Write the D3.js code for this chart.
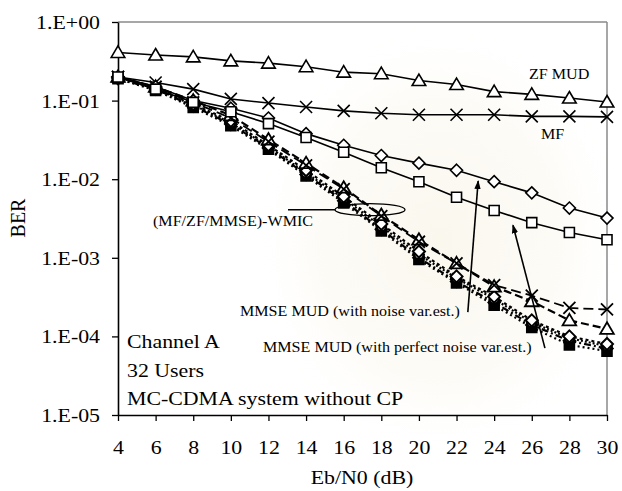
<!DOCTYPE html>
<html>
<head>
<meta charset="utf-8">
<script src="https://cdn.jsdelivr.net/npm/d3@7"></script>
<style>
  html, body { margin: 0; padding: 0; background: #fff; }
  svg { display: block; font-family: "Liberation Serif", "Times New Roman", serif; }
</style>
</head>
<body>
<svg id="chart" width="622" height="491"></svg>
<script>
// Eb/N0 axis (dB)
const ebn0 = [4, 6, 8, 10, 12, 14, 16, 18, 20, 22, 24, 26, 28, 30];

// BER decades and their labels
const berTicks = [1, 1e-1, 1e-2, 1e-3, 1e-4, 1e-5];
const berTickLabels = ["1.E+00", "1.E-01", "1.E-02", "1.E-03", "1.E-04", "1.E-05"];

// Conventional receivers (solid lines)
const zfMud   = [0.41, 0.38, 0.36, 0.32, 0.30, 0.27, 0.23, 0.22, 0.18, 0.16, 0.13, 0.12, 0.108, 0.096];
const mf      = [0.20, 0.17, 0.14, 0.105, 0.093, 0.083, 0.074, 0.069, 0.066, 0.066, 0.066, 0.063, 0.063, 0.062];
const mmseEst = [0.20, 0.15, 0.10, 0.080, 0.060, 0.038, 0.027, 0.020, 0.016, 0.013, 0.0093, 0.0067, 0.0043, 0.0032];
const mmsePerf= [0.20, 0.14, 0.095, 0.072, 0.051, 0.034, 0.022, 0.014, 0.0093, 0.0059, 0.0040, 0.0028, 0.0021, 0.0017];

// WMIC receivers (dashed / dotted lines)
const wmicMfEst   = [0.20, 0.15, 0.095, 0.060, 0.030, 0.015, 0.0075, 0.0034, 0.0016, 0.00085, 0.00045, 0.00033, 0.00023, 0.00022];
const wmicZfEst   = [0.20, 0.15, 0.100, 0.065, 0.032, 0.016, 0.0078, 0.0035, 0.0017, 0.00085, 0.00043, 0.00028, 0.00016, 0.000125];
const wmicMmseEst = [0.20, 0.145, 0.090, 0.055, 0.027, 0.013, 0.0060, 0.0027, 0.0012, 0.00058, 0.00032, 0.00016, 0.00010, 0.000080];
const wmicMfPerf  = [0.20, 0.14, 0.088, 0.052, 0.026, 0.012, 0.0057, 0.0025, 0.0011, 0.00055, 0.00030, 0.00015, 0.000095, 0.000075];
const wmicZfPerf  = [0.19, 0.14, 0.085, 0.050, 0.025, 0.0115, 0.0053, 0.0023, 0.0010, 0.00050, 0.00027, 0.00014, 0.000088, 0.000070];
const wmicMmsePerf= [0.19, 0.135, 0.082, 0.048, 0.024, 0.011, 0.0050, 0.0022, 0.00095, 0.00048, 0.00025, 0.00013, 0.000078, 0.000065];

const SX = 1.15; // horizontal stretch of the typeface

const svg = d3.select("#chart");
const plotL = 118, plotR = 607, plotT = 22, plotB = 415;

const x = d3.scaleLinear().domain([4, 30]).range([plotL, plotR]);
const y = d3.scaleLog().domain([1e-5, 1]).range([plotB, plotT]);

// faint background emblem
const defs = svg.append("defs");
const rg = defs.append("radialGradient").attr("id", "wm");
rg.append("stop").attr("offset", "0%").attr("stop-color", "#f5efdc").attr("stop-opacity", 0.5);
rg.append("stop").attr("offset", "65%").attr("stop-color", "#f8f3e4").attr("stop-opacity", 0.3);
rg.append("stop").attr("offset", "100%").attr("stop-color", "#ffffff").attr("stop-opacity", 0);
svg.append("ellipse").attr("cx", 440).attr("cy", 240).attr("rx", 190).attr("ry", 220).attr("fill", "url(#wm)");

// arrowhead
defs.append("marker").attr("id", "arrow")
  .attr("viewBox", "0 0 10 10").attr("refX", 9).attr("refY", 5)
  .attr("markerWidth", 9).attr("markerHeight", 9).attr("orient", "auto")
  .attr("markerUnits", "userSpaceOnUse")
  .append("path").attr("d", "M0,1.5 L10,5 L0,8.5 Z").attr("fill", "#000");

// frame: gray top and right borders
svg.append("line").attr("x1", plotL).attr("x2", plotR).attr("y1", plotT).attr("y2", plotT)
  .attr("stroke", "#8a8a8a").attr("stroke-width", 1.5);
svg.append("line").attr("x1", plotR).attr("x2", plotR).attr("y1", plotT).attr("y2", plotB)
  .attr("stroke", "#8a8a8a").attr("stroke-width", 1.5);

// axes
const yAxis = d3.axisLeft(y).tickValues(berTicks)
  .tickFormat((d, i) => berTickLabels[i]).tickSizeInner(6).tickSizeOuter(0);
const gy = svg.append("g").attr("transform", `translate(${plotL},0)`).call(yAxis);
gy.select(".domain").attr("stroke", "#000").attr("stroke-width", 1.6);
gy.selectAll(".tick line").attr("stroke", "#000").attr("stroke-width", 1.3);
gy.selectAll(".tick text")
  .attr("x", -18 / SX).attr("dy", "0.34em")
  .attr("transform", `scale(${SX},1)`)
  .style("font-family", "'Liberation Serif','Times New Roman',serif")
  .style("font-size", "19px").attr("fill", "#000");

const xAxis = d3.axisBottom(x).tickValues(ebn0).tickFormat(d3.format("d"))
  .tickSizeInner(6).tickSizeOuter(0);
const gx = svg.append("g").attr("transform", `translate(0,${plotB})`).call(xAxis);
gx.select(".domain").attr("stroke", "#000").attr("stroke-width", 1.6);
gx.selectAll(".tick line").attr("stroke", "#000").attr("stroke-width", 1.3);
gx.selectAll(".tick text")
  .attr("y", 0).attr("dy", 0)
  .attr("transform", `translate(0,39) scale(${SX},1)`)
  .style("font-family", "'Liberation Serif','Times New Roman',serif")
  .style("font-size", "19px").attr("fill", "#000");

// marker shapes
const shapes = {
  triangle: "M0,-6.5 L6.8,5 L-6.8,5 Z",
  cross: "M-6,-6 L6,6 M-6,6 L6,-6",
  diamond: "M0,-6 L6,0 L0,6 L-6,0 Z",
  square: "M-5,-5 L5,-5 L5,5 L-5,5 Z",
  circle: "M-4.5,0 A4.5,4.5 0 1,0 4.5,0 A4.5,4.5 0 1,0 -4.5,0 Z"
};

const line = d3.line().x(d => x(d[0])).y(d => y(d[1]));

function drawSeries(values, opts) {
  const pts = ebn0.map((e, i) => [e, values[i]]);
  const g = svg.append("g");
  g.append("path").datum(pts).attr("d", line)
    .attr("fill", "none").attr("stroke", "#000")
    .attr("stroke-width", opts.width || 1.6)
    .attr("stroke-dasharray", opts.dash || null);
  g.selectAll("path.mk").data(pts).join("path").attr("class", "mk")
    .attr("transform", d => `translate(${x(d[0])},${y(d[1])})`)
    .attr("d", shapes[opts.shape])
    .attr("fill", opts.filled ? "#000" : (opts.shape === "cross" ? "none" : "#fff"))
    .attr("stroke", "#000").attr("stroke-width", opts.mw || 1.6);
}

// WMIC family
drawSeries(wmicMmsePerf, { shape: "square", filled: true, dash: "2,3", width: 2.2 });
drawSeries(wmicZfPerf,   { shape: "diamond", filled: true, dash: "7,3,2,3", width: 2.2 });
drawSeries(wmicMfPerf,   { shape: "circle", dash: "2,2", width: 2.2, mw: 2 });
drawSeries(wmicMmseEst,  { shape: "diamond", dash: "3,3", width: 2.2, mw: 2 });
drawSeries(wmicZfEst,    { shape: "triangle", dash: "8,4", width: 2.2, mw: 1.8 });
drawSeries(wmicMfEst,    { shape: "cross", dash: "10,5", width: 1.8, mw: 1.8 });

// conventional receivers
drawSeries(zfMud,    { shape: "triangle" });
drawSeries(mf,       { shape: "cross" });
drawSeries(mmseEst,  { shape: "diamond" });
drawSeries(mmsePerf, { shape: "square" });

// text helper with stretched typeface
function label(px, py, str, size, anchor) {
  svg.append("text")
    .attr("transform", `translate(${px},${py}) scale(${SX},1)`)
    .attr("text-anchor", anchor || "start")
    .style("font-size", size + "px").attr("fill", "#000")
    .text(str);
}

label(529, 79, "ZF MUD", 14);
label(541, 139, "MF", 14);
label(153, 226, "(MF/ZF/MMSE)-WMIC", 14);
label(240, 316, "MMSE MUD (with noise var.est.)", 14);
label(263, 352, "MMSE MUD (with perfect noise var.est.)", 14);
label(127, 348, "Channel A", 19);
label(127, 377, "32 Users", 19);
label(127, 405, "MC-CDMA system without CP", 19);
label(362, 484, "Eb/N0 (dB)", 19, "middle");

svg.append("text")
  .attr("transform", "translate(25,218) rotate(-90)")
  .attr("text-anchor", "middle")
  .style("font-size", "20px").text("BER");

// WMIC callout: ellipse around the cluster and leader line
const ec = [x(17.4), y(0.0041)];
svg.append("ellipse").attr("cx", ec[0]).attr("cy", ec[1]).attr("rx", 35).attr("ry", 6)
  .attr("fill", "none").attr("stroke", "#000").attr("stroke-width", 1.3);
svg.append("line").attr("x1", 288).attr("x2", ec[0] - 35).attr("y1", ec[1]).attr("y2", ec[1])
  .attr("stroke", "#000").attr("stroke-width", 1.5);

// arrows to the MMSE MUD curves
svg.append("line")
  .attr("x1", x(22.6)).attr("y1", y(2.04e-4)).attr("x2", x(23.15)).attr("y2", y(0.0095))
  .attr("stroke", "#000").attr("stroke-width", 1.6).attr("marker-end", "url(#arrow)");
svg.append("line")
  .attr("x1", x(26.7)).attr("y1", y(7.1e-5)).attr("x2", x(25.0)).attr("y2", y(0.0026))
  .attr("stroke", "#000").attr("stroke-width", 1.6).attr("marker-end", "url(#arrow)");
</script>
</body>
</html>
